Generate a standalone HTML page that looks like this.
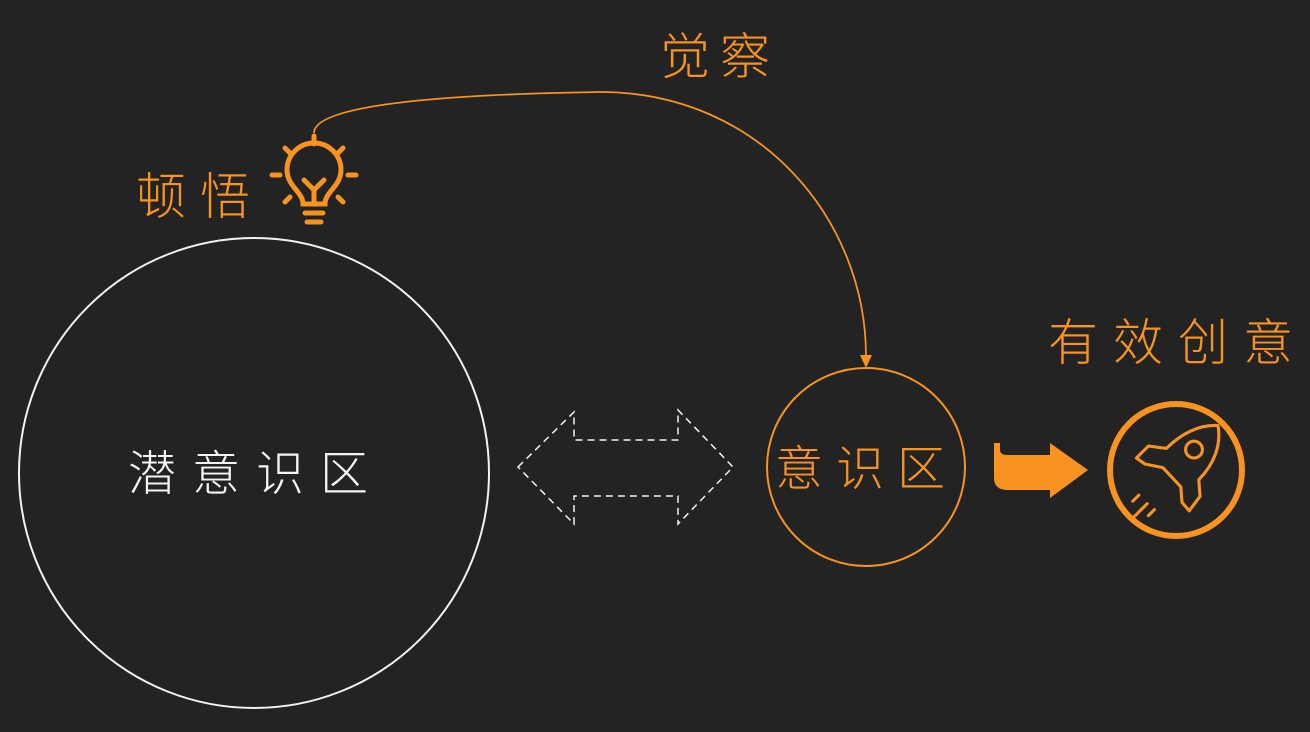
<!DOCTYPE html>
<html><head><meta charset="utf-8"><style>
html,body{margin:0;padding:0;background:#232323;}
svg{display:block}
text{font-family:"Liberation Sans","Noto Sans CJK SC",sans-serif;}
</style></head><body>
<svg width="1310" height="732" viewBox="0 0 1310 732" xmlns="http://www.w3.org/2000/svg">
<rect width="1310" height="732" fill="#232323"/>
<circle cx="254" cy="473" r="235" fill="none" stroke="#f2f2f2" stroke-width="2"/>
<text x="128" y="490" font-size="48" font-weight="300" fill="#f5f5f5" letter-spacing="16">潜意识区</text>
<polygon points="518,467 574,412 574,440 678,440 678,410 733,467 678,524 678,496 574,496 574,524" fill="none" stroke="#f2f2f2" stroke-width="1.5" stroke-dasharray="7,5"/>
<circle cx="866" cy="467" r="99" fill="none" stroke="#f7931e" stroke-width="2"/>
<text x="775" y="485" font-size="48" font-weight="300" fill="#f7931e" letter-spacing="13">意识区</text>
<path d="M314,133 C314,110 400,95 600,92 C760,92 866,220 866,356" fill="none" stroke="#f7931e" stroke-width="1.8"/>
<polygon points="860,355 872,355 866,368" fill="#f7931e"/>
<text x="660" y="74" font-size="50" font-weight="300" fill="#f7931e" letter-spacing="10">觉察</text>
<text x="136" y="214" font-size="50" font-weight="300" fill="#f7931e" letter-spacing="14">顿悟</text>
<g stroke="#f7931e" stroke-width="5" fill="none" stroke-linecap="round">
<path d="M303,204 C303,192 287,186 287,170 A27,27 0 1 1 341,170 C341,186 325,192 325,204 Z"/>
<path d="M314,204 L314,190 M304,180 L314,190 L324,180"/>
<line x1="305" y1="213" x2="323" y2="213"/>
<line x1="307" y1="222" x2="321" y2="222"/>
<line x1="314" y1="136" x2="314" y2="144"/>
<line x1="285" y1="148" x2="291" y2="154"/>
<line x1="343" y1="148" x2="337" y2="154"/>
<line x1="272" y1="175" x2="280" y2="175"/>
<line x1="348" y1="175" x2="356" y2="175"/>
<line x1="285" y1="202" x2="290" y2="197"/>
<line x1="343" y1="202" x2="338" y2="197"/>
</g>
<path d="M994,443 L1000,443 L1000,450 Q1000,455 1008,455 L1050,455 L1050,443 L1088,470 L1050,498 L1050,490 L1008,490 Q994,490 994,478 Z" fill="#f7931e"/>
<circle cx="1176" cy="470" r="66" fill="none" stroke="#f7931e" stroke-width="6"/>
<g transform="translate(1176,470) scale(1.2) translate(-1176,-470)" stroke="#f7931e" stroke-width="2.6" fill="none" stroke-linecap="round" stroke-linejoin="round">
<path d="M1211,433 C1195,432 1180,440 1168,452 L1153,450 L1143,460 L1150,465 L1165,468 L1180,484 L1181,497 L1187,504 L1196,492 L1195,478 C1207,466 1214,450 1211,433 Z"/>
<circle cx="1191" cy="453" r="7"/>
<line x1="1140" y1="496" x2="1145" y2="491"/>
<line x1="1141" y1="509" x2="1152" y2="498"/>
<line x1="1153" y1="508" x2="1158" y2="503"/>
</g>
<text x="1048" y="360" font-size="50" font-weight="300" fill="#f7931e" letter-spacing="15">有效创意</text>
</svg>
</body></html>
